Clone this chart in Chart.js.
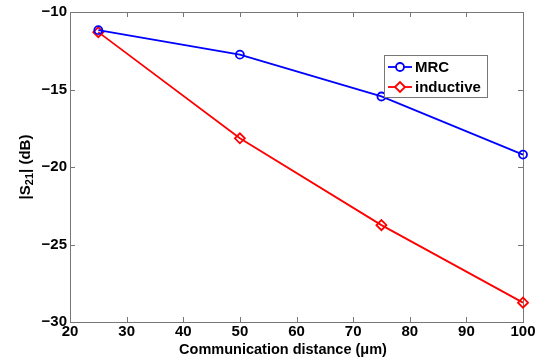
<!DOCTYPE html>
<html>
<head>
<meta charset="utf-8">
<script src="https://cdn.jsdelivr.net/npm/chart.js@4"></script>
<style>
html, body { margin: 0; padding: 0; background: #fff; }
#wrap { width: 546px; height: 363px; }
</style>
</head>
<body>
<div id="wrap"><canvas id="c"></canvas></div>
<script>
// values
const distances = [25, 50, 75, 100];
const mrcValues = [-11.17, -12.75, -15.45, -19.2];
const inductiveValues = [-11.3, -18.15, -23.75, -28.75];
const seriesNames = ['MRC', 'inductive'];
const xTickValues = [20, 30, 40, 50, 60, 70, 80, 90, 100];
const yTickValues = [-30, -25, -20, -15, -10];

const FONT = '"Liberation Sans", Arial, Helvetica, sans-serif';
const AXIS_COLOR = '#777';

function points(vals){
    return distances.map((d, i) => ({x: d, y: vals[i]}));
}

// box around the axes, with inward ticks on all four sides, plus axis titles
const framePlugin = {
    id: 'frame',
    beforeDatasetsDraw(chart){
        const ctx = chart.ctx;
        const a = chart.chartArea;
        const xs = chart.scales.x, ys = chart.scales.y;
        const tl = 5;
        ctx.save();
        ctx.strokeStyle = AXIS_COLOR;
        ctx.lineWidth = 1;
        ctx.strokeRect(a.left + 0.5, a.top + 0.5, a.right - a.left, a.bottom - a.top);
        ctx.beginPath();
        xTickValues.forEach(v => {
            const px = Math.round(xs.getPixelForValue(v)) + 0.5;
            ctx.moveTo(px, a.bottom); ctx.lineTo(px, a.bottom - tl);
            ctx.moveTo(px, a.top); ctx.lineTo(px, a.top + tl);
        });
        yTickValues.forEach(v => {
            const py = Math.round(ys.getPixelForValue(v)) + 0.5;
            ctx.moveTo(a.left, py); ctx.lineTo(a.left + tl, py);
            ctx.moveTo(a.right, py); ctx.lineTo(a.right - tl, py);
        });
        ctx.stroke();

        // axis titles
        ctx.fillStyle = '#000';
        ctx.font = 'bold 14.5px ' + FONT;
        ctx.textAlign = 'center';
        ctx.textBaseline = 'middle';
        ctx.fillText('Communication distance (\u03bcm)', 283, 350);

        // |S21| (dB) with subscript, rotated
        ctx.translate(26, (a.top + a.bottom) / 2);
        ctx.rotate(-Math.PI / 2);
        const big = 'bold 15px ' + FONT, small = 'bold 11px ' + FONT;
        const parts = [['|S', big, 0], ['21', small, 4], ['| (dB)', big, 0]];
        let total = 0;
        parts.forEach(p => { ctx.font = p[1]; total += ctx.measureText(p[0]).width; });
        let x = -total / 2;
        ctx.textAlign = 'left';
        parts.forEach(p => {
            ctx.font = p[1];
            ctx.fillText(p[0], x, p[2]);
            x += ctx.measureText(p[0]).width;
        });
        ctx.restore();
    },
    afterDatasetsDraw(chart){
        // legend box inside the plot, MATLAB style
        const ctx = chart.ctx;
        const bx = 384, by = 55, bw = 103, bh = 42;
        ctx.save();
        ctx.fillStyle = '#fff';
        ctx.fillRect(bx, by, bw, bh);
        ctx.strokeStyle = AXIS_COLOR;
        ctx.lineWidth = 1;
        ctx.strokeRect(bx + 0.5, by + 0.5, bw, bh);
        chart.data.datasets.forEach((ds, i) => {
            const cy = by + 12 + i * 20;
            ctx.strokeStyle = ds.borderColor;
            ctx.lineWidth = ds.borderWidth;
            ctx.beginPath();
            ctx.moveTo(bx + 4, cy); ctx.lineTo(bx + 28, cy);
            ctx.stroke();
            ctx.fillStyle = '#fff';
            Chart.helpers.drawPoint(ctx, {
                pointStyle: ds.pointStyle,
                radius: ds.pointRadius,
                borderWidth: ds.pointBorderWidth,
                rotation: 0
            }, bx + 16, cy);
            ctx.fillStyle = '#000';
            ctx.font = 'bold 15px ' + FONT;
            ctx.textAlign = 'left';
            ctx.textBaseline = 'middle';
            ctx.fillText(ds.label, bx + 31, cy + 1);
        });
        ctx.restore();
    }
};

new Chart(document.getElementById('c'), {
    type: 'line',
    data: {
        datasets: [{
            label: seriesNames[0],
            data: points(mrcValues),
            borderColor: '#0000ff',
            backgroundColor: 'rgba(0,0,0,0)',
            borderWidth: 1.8,
            pointStyle: 'circle',
            pointRadius: 4,
            pointBorderWidth: 1.8,
            pointBackgroundColor: 'rgba(0,0,0,0)',
            pointBorderColor: '#0000ff',
            clip: false
        }, {
            label: seriesNames[1],
            data: points(inductiveValues),
            borderColor: '#ff0000',
            backgroundColor: 'rgba(0,0,0,0)',
            borderWidth: 1.8,
            pointStyle: 'rectRot',
            pointRadius: 5,
            pointBorderWidth: 1.8,
            pointBackgroundColor: 'rgba(0,0,0,0)',
            pointBorderColor: '#ff0000',
            clip: false
        }]
    },
    options: {
        responsive: true,
        maintainAspectRatio: false,
        animation: false,
        layout: { padding: { left: 0, right: 23, top: 11, bottom: 0 } },
        plugins: { legend: { display: false }, tooltip: { enabled: false } },
        scales: {
            x: {
                type: 'linear',
                min: 20, max: 100,
                afterFit(scale){ scale.height = 41; },
                afterBuildTicks(scale){ scale.ticks = xTickValues.map(v => ({value: v})); },
                grid: { display: false, drawTicks: false, tickLength: 0 },
                border: { display: false },
                ticks: {
                    color: '#000',
                    padding: 1,
                    maxRotation: 0,
                    font: { family: FONT, size: 15, weight: 'bold' }
                }
            },
            y: {
                min: -30, max: -10,
                afterFit(scale){ scale.width = 70; },
                afterBuildTicks(scale){ scale.ticks = yTickValues.map(v => ({value: v})); },
                grid: { display: false, drawTicks: false, tickLength: 0 },
                border: { display: false },
                ticks: {
                    color: '#000',
                    padding: 3,
                    font: { family: FONT, size: 15, weight: 'bold' },
                    callback: v => String(v).replace('-', '\u2212')
                }
            }
        }
    },
    plugins: [framePlugin]
});
</script>
</body>
</html>
